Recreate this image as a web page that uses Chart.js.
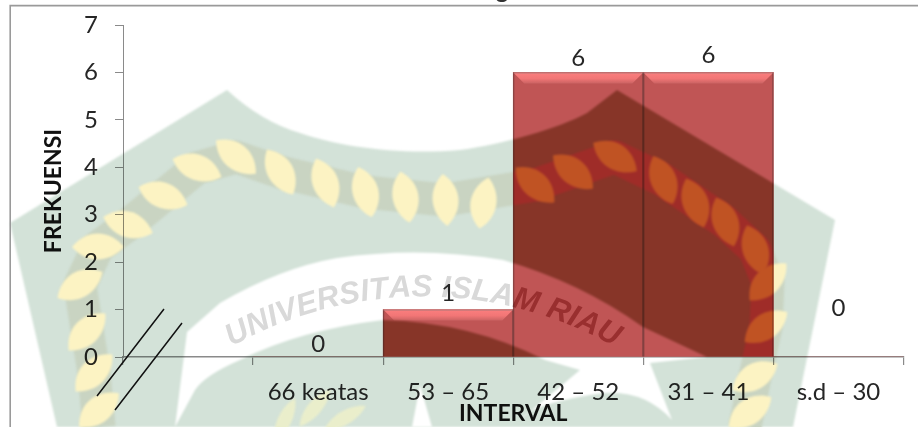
<!DOCTYPE html>
<html><head><meta charset="utf-8">
<style>html,body{margin:0;padding:0;background:#fff}#w{width:918px;height:427px;position:relative}</style>
<script src="https://cdn.jsdelivr.net/npm/chart.js@4/dist/chart.umd.js"></script>
</head><body><div id="w"><canvas id="c" width="918" height="427"></canvas></div>
<script>
const categories = ["", "66 keatas", "53 – 65", "42 – 52", "31 – 41", "s.d – 30"];
const frekuensi = [null, 0, 1, 6, 6, 0];
const yTicks = [0, 1, 2, 3, 4, 5, 6, 7];
const labelLift = [0, 13, 16, 14, 17, 49];
const xTitle = "INTERVAL";
const yTitle = "FREKUENSI";
const watermarkText = "UNIVERSITAS ISLAM RIAU";

const FONT = 'Lato, Carlito, sans-serif';
const LEAVES = [[236,157,40],[197,168,20],[163,196,20],[128,225,18],[98,247,0],[80,285,-30],[87,332,-45],[94,373,-45],[99,410,-40],
 [280,172,60],[325,183,70],[365,192,75],[405,197,80],[445,200,85],[484,203,-80],
 [535,185,42],[573,172,40],[615,157,33],[663,180,68],[695,203,70],[725,222,70],[755,250,72],[768,282,-45],[766,327,-35],[755,377,-30],[750,412,-35]];
const RING = [[99,427],[94,373],[80,285],[98,247],[128,225],[163,196],[197,168],[236,157],[280,172],[365,192],[445,200],[535,185],[615,157],[663,180],[725,222],[755,250],[768,282],[766,327],[755,377],[745,427]];
const PALE = [[315,408,-50],[345,418,-30],[285,420,-65]];

function buildWatermark(p){
  const cv=document.createElement('canvas');cv.width=918;cv.height=427;
  const g=cv.getContext('2d');
  g.fillStyle='#fff';g.fillRect(0,0,918,427);
  g.filter='blur(1.2px)';
  g.fillStyle=p.green;g.beginPath();
  g.moveTo(227,90);g.quadraticCurveTo(262,122,300,133);g.bezierCurveTo(340,147,400,155,460,150);
  g.bezierCurveTo(500,145,560,128,587,113);g.lineTo(617,90);g.lineTo(835,220);g.lineTo(793,427);g.lineTo(57,427);g.lineTo(10,223);g.closePath();g.fill();
  g.strokeStyle=p.ring;g.lineWidth=33;g.lineJoin='round';g.lineCap='butt';g.beginPath();
  RING.forEach((q,i)=>i?g.lineTo(q[0],q[1]):g.moveTo(q[0],q[1]));g.stroke();
  const leaf=(x,y,a,L,W,c)=>{g.save();g.translate(x,y);g.rotate(a*Math.PI/180);g.fillStyle=c;g.beginPath();g.moveTo(-L,0);
    g.bezierCurveTo(-L*.4,-W*1.3,L*.5,-W*1.1,L,0);g.bezierCurveTo(L*.5,W*1.0,-L*.4,W*1.2,-L,0);g.fill();g.restore();};
  LEAVES.forEach(l=>leaf(l[0],l[1],l[2],26,15,p.leaf));
  PALE.forEach(l=>leaf(l[0],l[1],l[2],24,8,p.pale));
  g.fillStyle='#fff';g.beginPath();
  g.moveTo(187,332);g.lineTo(220,303);g.quadraticCurveTo(280,268,337,258);g.quadraticCurveTo(420,246,503,260);g.quadraticCurveTo(580,282,643,327);g.lineTo(707,357);
  g.lineTo(650,363);g.lineTo(672,420);g.quadraticCurveTo(640,385,590,395);g.quadraticCurveTo(530,405,520,420);g.lineTo(580,370);g.lineTo(545,360);
  g.quadraticCurveTo(470,322,383,320);g.quadraticCurveTo(300,330,240,360);g.quadraticCurveTo(205,375,195,390);g.lineTo(175,427);g.closePath();g.fill();
  g.beginPath();g.moveTo(420,385);g.lineTo(432,427);g.lineTo(412,427);g.closePath();g.fill();
  g.filter='blur(.7px)';g.fillStyle=p.text;g.font='bold italic 31px "Liberation Sans", Arial, sans-serif';g.textAlign='center';g.textBaseline='middle';
  const R=400,cx=423,cy=688,gap=0.5,total=watermarkText.split('').reduce((s,ch)=>s+g.measureText(ch).width+gap,0);
  let arc=-total/2;
  for(const ch of watermarkText){const w=g.measureText(ch).width+gap,t=(arc+w/2)/R;g.save();g.translate(cx+R*Math.sin(t),cy-R*Math.cos(t));g.rotate(t);g.fillText(ch,0,0);g.restore();arc+=w;}
  return cv;
}
const wmA=buildWatermark({green:'#d3e2d8',ring:'#c9d4c2',leaf:'#fcf3c3',pale:'#eaeecb',text:'#d9d9d9'});
const wmB=buildWatermark({green:'#b39e78',ring:'#d48278',leaf:'#fff769',pale:'#fff769',text:'#cc8c8c'});

const barRects=ch=>ch.getDatasetMeta(0).data.map((b,i)=>({b,i})).filter(o=>frekuensi[o.i]>0).map(({b})=>({x:b.x-b.width/2,y:b.y,w:b.width,h:b.base-b.y}));

const painter={id:'painter',
  afterDatasetsDraw(ch){
    const g=ch.ctx;
    barRects(ch).forEach(r=>{
      g.save();
      const d=Math.min(11,r.h/3.5);
      const tg=g.createLinearGradient(0,r.y,0,r.y+d);tg.addColorStop(0,'#fb7e7e');tg.addColorStop(.55,'#f27676');tg.addColorStop(1,'#cb6363');
      g.fillStyle=tg;g.beginPath();g.moveTo(r.x,r.y);g.lineTo(r.x+r.w,r.y);g.lineTo(r.x+r.w-d,r.y+d);g.lineTo(r.x+d,r.y+d);g.closePath();g.fill();
      g.strokeStyle='rgba(70,45,45,.55)';g.lineWidth=1;g.beginPath();g.moveTo(r.x+.5,r.y+r.h);g.lineTo(r.x+.5,r.y);g.stroke();
      g.beginPath();g.moveTo(r.x+r.w-.5,r.y+r.h);g.lineTo(r.x+r.w-.5,r.y);g.stroke();
      g.strokeStyle='rgba(150,120,120,.7)';g.beginPath();g.moveTo(r.x,r.y+.5);g.lineTo(r.x+r.w,r.y+.5);g.stroke();
      g.restore();
    });
  },
  afterDraw(ch){
    const g=ch.ctx,rs=barRects(ch),W=918,H=427;
    g.save();g.globalCompositeOperation='multiply';
    g.save();g.beginPath();g.rect(0,0,W,H);rs.forEach(r=>g.rect(r.x,r.y,r.w,r.h));g.clip('evenodd');g.drawImage(wmA,0,0);g.restore();
    g.save();g.beginPath();rs.forEach(r=>g.rect(r.x,r.y,r.w,r.h));g.clip();g.drawImage(wmB,0,0);g.restore();
    g.restore();
    g.save();g.font='24px '+FONT;g.fillStyle='#262626';g.textAlign='center';g.textBaseline='middle';
    ch.getDatasetMeta(0).data.forEach((b,i)=>{if(frekuensi[i]===null)return;g.fillText(String(frekuensi[i]),b.x,b.y-labelLift[i]);});
    g.restore();
    g.save();g.strokeStyle='#9a9a9a';g.lineWidth=1.6;g.beginPath();g.moveTo(10.2,427);g.lineTo(10.2,5.6);g.lineTo(918,5.6);g.stroke();g.restore();
    g.save();g.beginPath();g.rect(0,0,918,5);g.clip();g.font='bold 24px '+FONT;g.fillStyle='#333';g.textAlign='center';g.textBaseline='alphabetic';g.fillText('g',502,-2);g.restore();
    g.save();g.strokeStyle='#111';g.lineWidth=1.5;g.beginPath();g.moveTo(97,396);g.lineTo(164,309);g.moveTo(115,410);g.lineTo(182,323);g.stroke();g.restore();
  }
};

new Chart(document.getElementById('c'),{
  type:'bar',
  data:{labels:categories,datasets:[{data:frekuensi,backgroundColor:'#c05555',borderWidth:0,barPercentage:1,categoryPercentage:1}]},
  plugins:[painter],
  options:{responsive:false,animation:false,devicePixelRatio:1,
    layout:{padding:{left:0,top:25,right:14.5,bottom:0}},
    plugins:{legend:{display:false},title:{display:false},tooltip:{enabled:false}},
    scales:{
      x:{grid:{drawOnChartArea:false,color:'#8a8a8a',tickLength:8,lineWidth:1.2},border:{color:'#8a8a8a',width:1.4},
         ticks:{color:'#262626',font:{family:FONT,size:24},padding:13,maxRotation:0,autoSkip:false},
         title:{display:true,text:xTitle,color:'#111',font:{family:FONT,size:23,weight:'bold'},padding:{top:0,bottom:0}},
         afterFit(s){s.height=70;s.paddingLeft=0;s.paddingRight=0;}},
      y:{min:0,max:7,afterBuildTicks(s){s.ticks=yTicks.map(v=>({value:v}));},
         grid:{drawOnChartArea:false,color:'#8a8a8a',tickLength:8,lineWidth:1},border:{color:'#8a8a8a',width:1},
         ticks:{color:'#262626',font:{family:FONT,size:24},padding:17},
         title:{display:true,text:yTitle,color:'#111',font:{family:FONT,size:23,weight:'bold'},padding:{top:40,bottom:0}},
         afterFit(s){s.width=123;s.paddingTop=0;s.paddingBottom=0;}}
    }}
});
</script></body></html>
